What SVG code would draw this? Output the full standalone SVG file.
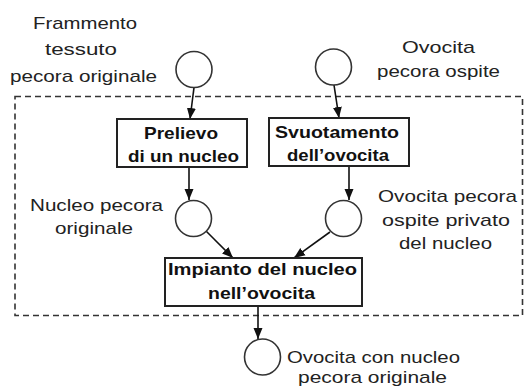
<svg xmlns="http://www.w3.org/2000/svg" width="524" height="388" viewBox="0 0 524 388">
<defs>
<marker id="ah" markerUnits="userSpaceOnUse" markerWidth="12" markerHeight="12" viewBox="0 0 12 12" refX="11" refY="6" orient="auto">
<path d="M0,1.5 L11,6 L0,10.5 Z" fill="#111"/>
</marker>
</defs>
<style>
.lbl{font-family:"Liberation Sans",Arial,sans-serif;font-size:17px;fill:#222}
.bx{font-family:"Liberation Sans",Arial,sans-serif;font-size:17px;font-weight:bold;fill:#111}
.place{fill:#fff;stroke:#333;stroke-width:1.6}
.trans{fill:#fff;stroke:#222;stroke-width:2}
.arc{fill:none;stroke:#111;stroke-width:1.6;marker-end:url(#ah)}
</style>
<rect x="15" y="96.5" width="507.5" height="219" fill="none" stroke="#333" stroke-width="1.6" stroke-dasharray="6,4"/>
<g id="connectors">
<path class="arc" d="M194,87.5 L190,119"/>
<path class="arc" d="M189,167 L189,200"/>
<path class="arc" d="M334,85 L339,118"/>
<path class="arc" d="M349,166 L349,200"/>
<path class="arc" d="M206,231 L233,258"/>
<path class="arc" d="M330,232 L294,258"/>
<path class="arc" d="M258,306 L258,339"/>
</g>
<g id="p-frammento">
<circle class="place" cx="194" cy="69.5" r="18"/>
<text class="lbl" x="33" y="29" textLength="104" lengthAdjust="spacingAndGlyphs">Frammento</text>
<text class="lbl" x="45" y="55" textLength="72" lengthAdjust="spacingAndGlyphs">tessuto</text>
<text class="lbl" x="10" y="82" textLength="147" lengthAdjust="spacingAndGlyphs">pecora originale</text>
</g>
<g id="p-ovocita">
<circle class="place" cx="333.5" cy="67" r="18"/>
<text class="lbl" x="402" y="53" textLength="73" lengthAdjust="spacingAndGlyphs">Ovocita</text>
<text class="lbl" x="377" y="77" textLength="123" lengthAdjust="spacingAndGlyphs">pecora ospite</text>
</g>
<g id="t-prelievo">
<rect class="trans" x="117" y="119" width="130" height="48"/>
<text class="bx" x="144" y="139" textLength="74" lengthAdjust="spacingAndGlyphs">Prelievo</text>
<text class="bx" x="128" y="162" textLength="111" lengthAdjust="spacingAndGlyphs">di un nucleo</text>
</g>
<g id="t-svuotamento">
<rect class="trans" x="269" y="118" width="140" height="48"/>
<text class="bx" x="275" y="138" textLength="124" lengthAdjust="spacingAndGlyphs">Svuotamento</text>
<text class="bx" x="287" y="161" textLength="102" lengthAdjust="spacingAndGlyphs">dell’ovocita</text>
</g>
<g id="p-nucleo">
<circle class="place" cx="193.5" cy="218.5" r="18"/>
<text class="lbl" x="30" y="211" textLength="133" lengthAdjust="spacingAndGlyphs">Nucleo pecora</text>
<text class="lbl" x="55" y="234" textLength="78" lengthAdjust="spacingAndGlyphs">originale</text>
</g>
<g id="p-privato">
<circle class="place" cx="343.5" cy="218.5" r="18"/>
<text class="lbl" x="378" y="202" textLength="139" lengthAdjust="spacingAndGlyphs">Ovocita pecora</text>
<text class="lbl" x="382" y="226" textLength="128" lengthAdjust="spacingAndGlyphs">ospite privato</text>
<text class="lbl" x="399" y="249" textLength="93" lengthAdjust="spacingAndGlyphs">del nucleo</text>
</g>
<g id="t-impianto">
<rect class="trans" x="165" y="258" width="197" height="48"/>
<text class="bx" x="168" y="275" textLength="189" lengthAdjust="spacingAndGlyphs">Impianto del nucleo</text>
<text class="bx" x="208" y="299" textLength="107" lengthAdjust="spacingAndGlyphs">nell’ovocita</text>
</g>
<g id="p-risultato">
<circle class="place" cx="262.5" cy="357" r="18"/>
<text class="lbl" x="287" y="363" textLength="173" lengthAdjust="spacingAndGlyphs">Ovocita con nucleo</text>
<text class="lbl" x="298" y="383" textLength="149" lengthAdjust="spacingAndGlyphs">pecora originale</text>
</g>
</svg>
